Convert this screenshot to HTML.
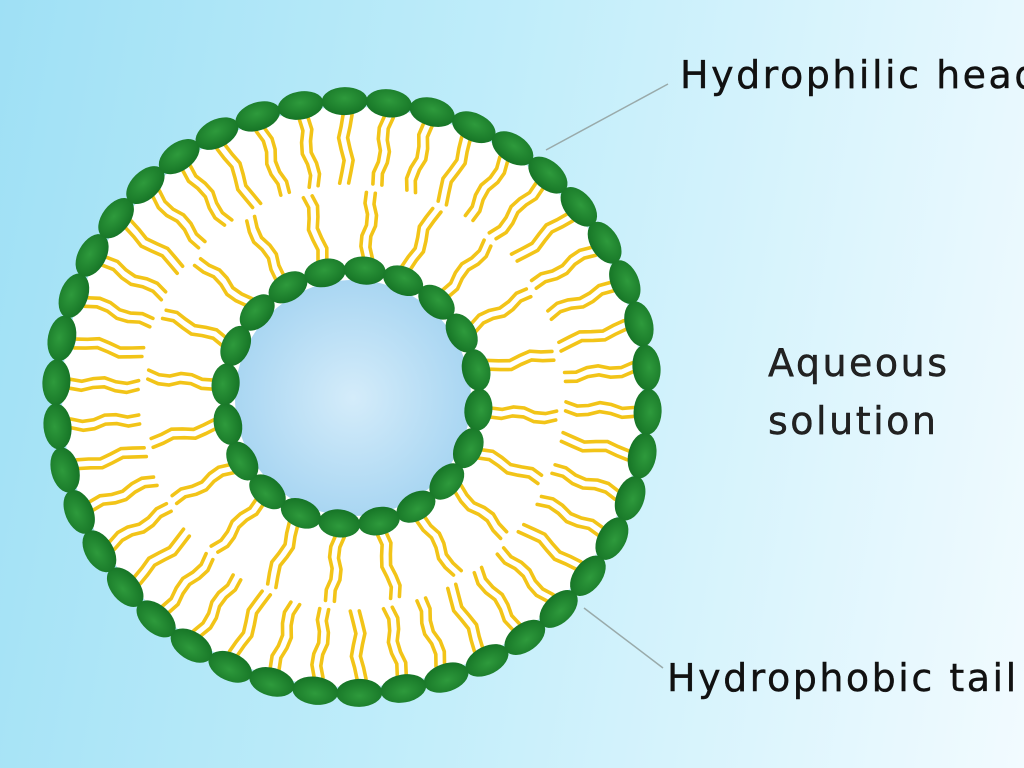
<!DOCTYPE html>
<html><head><style>
html,body{margin:0;padding:0;width:1024px;height:768px;overflow:hidden}
body{background:linear-gradient(100deg,#9fe0f5 0%,#c0edfa 45%,#f2fbff 100%);font-family:"DejaVu Sans","Liberation Sans",sans-serif}
svg{position:absolute;left:0;top:0}
</style></head><body>
<svg id="s" width="1024" height="768" viewBox="0 0 1024 768">
<defs>
<radialGradient id="inner" cx="50%" cy="50%" r="50%">
<stop offset="0" stop-color="#d4ecfa"/><stop offset="1" stop-color="#a9d6f2"/>
</radialGradient>
<radialGradient id="head" cx="50%" cy="40%" r="60%">
<stop offset="0" stop-color="#2e9a3c"/><stop offset="1" stop-color="#167426"/>
</radialGradient>
</defs>
<circle cx="352" cy="397" r="290" fill="#ffffff"/>
<circle cx="353" cy="398" r="118" fill="url(#inner)"/>
<g id="tails" stroke="#f2c418" stroke-width="3.6" fill="none" stroke-linecap="round"></g>
<g id="heads" fill="url(#head)"></g>
<line x1="668" y1="84" x2="546" y2="150" stroke="#9aa" stroke-width="1.5"/>
<line x1="584" y1="608" x2="663" y2="668" stroke="#9aa" stroke-width="1.5"/>
<g font-size="38" letter-spacing="2.5" stroke="#111" stroke-width="0.4">
<text x="680" y="88" fill="#111">Hydrophilic head</text>
<text x="768" y="376" fill="#222">Aqueous</text>
<text x="768" y="434" fill="#222">solution</text>
<text x="667" y="691" fill="#111">Hydrophobic tail</text>
</g>
</svg>
<script>
var NS="http://www.w3.org/2000/svg",cx=352,cy=397;
var tails=document.getElementById('tails'),heads=document.getElementById('heads');
function tailPair(a,r1,r2){
  for(var k=-1;k<=1;k+=2){
    var off=k*4.5,pts=[],n=6;
    for(var i=0;i<=n;i++){
      var r=r1+(r2-r1)*i/n, w=off+Math.sin(i*1.6+a*7)*2.5;
      var x=cx+r*Math.cos(a)-w*Math.sin(a), y=cy+r*Math.sin(a)+w*Math.cos(a);
      pts.push(x.toFixed(1)+","+y.toFixed(1));
    }
    var p=document.createElementNS(NS,'polyline');p.setAttribute('points',pts.join(' '));tails.appendChild(p);
  }
}
function ring(R,n,rx,ry,t1,t2,ph){
  for(var i=0;i<n;i++){
    var a=ph+i*2*Math.PI/n;
    tailPair(a,t1,t2);
    var e=document.createElementNS(NS,'ellipse');
    e.setAttribute('cx',(cx+R*Math.cos(a)).toFixed(1));e.setAttribute('cy',(cy+R*Math.sin(a)).toFixed(1));
    e.setAttribute('rx',rx);e.setAttribute('ry',ry);
    e.setAttribute('transform','rotate('+(a*180/Math.PI+90).toFixed(1)+' '+(cx+R*Math.cos(a)).toFixed(1)+' '+(cy+R*Math.sin(a)).toFixed(1)+')');
    heads.appendChild(e);
  }
}
ring(296,42,23,14,282,214,0.05);
ring(127,20,21,14,140,205,0.1);
</script>
</body></html>
